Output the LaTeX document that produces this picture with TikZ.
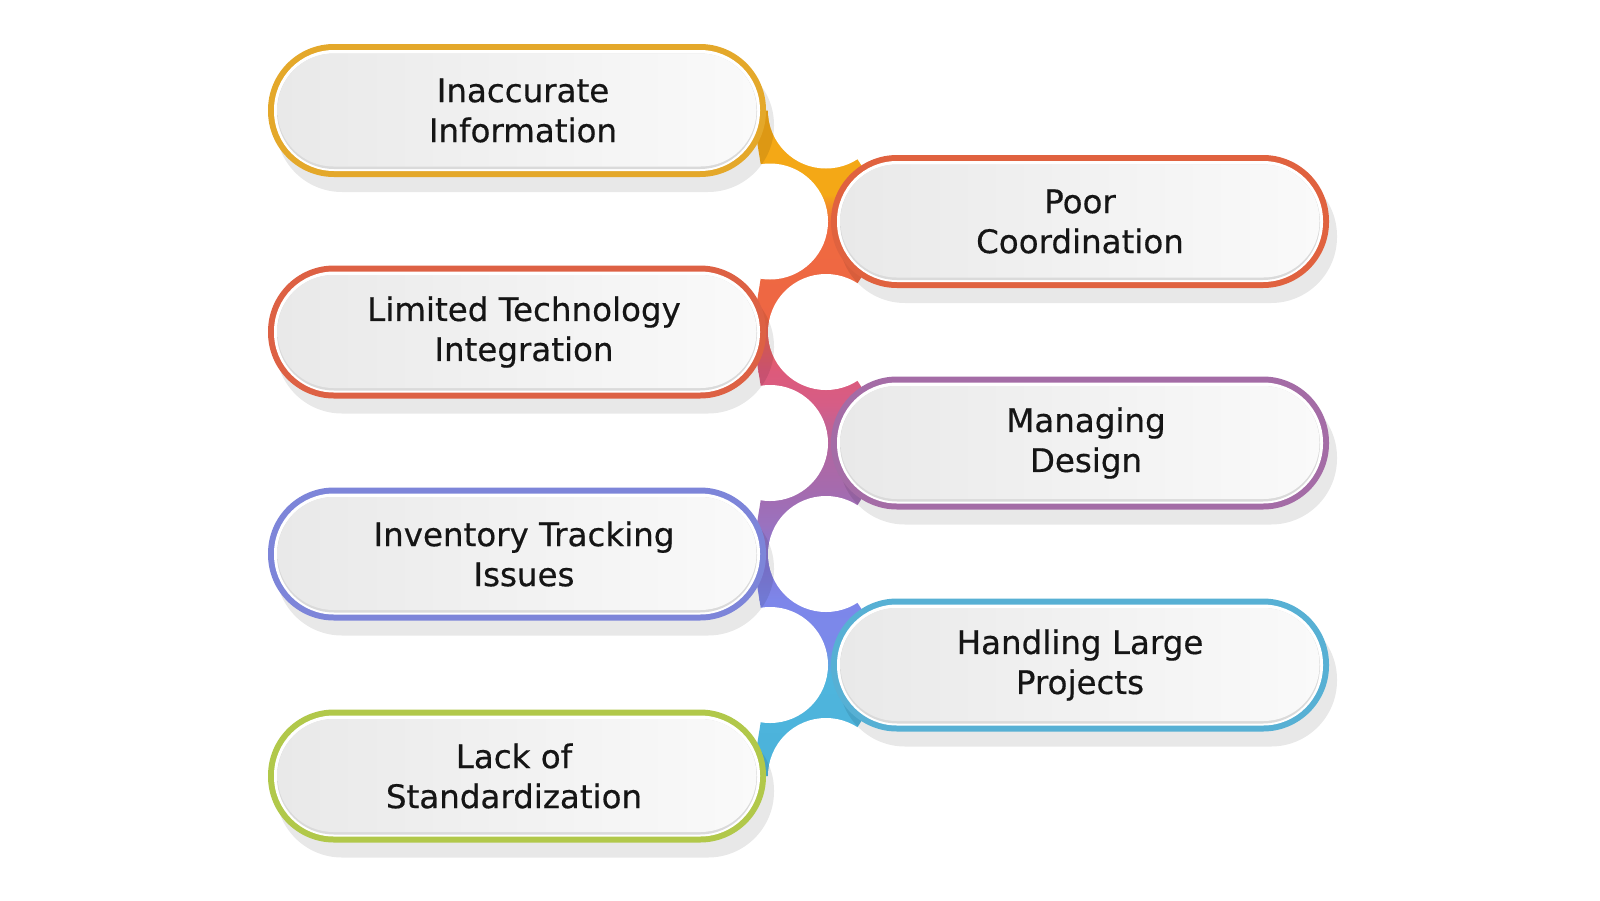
\documentclass[tikz,border=0pt]{standalone}
\usepackage{fontspec}
\setmainfont[FakeBold=0.5]{DejaVu Sans}
\definecolor{cYel}{HTML}{E4A82A}
\definecolor{cOra}{HTML}{E0623F}
\definecolor{cRed}{HTML}{DD6144}
\definecolor{cPur}{HTML}{A46CA6}
\definecolor{cBlu}{HTML}{7D85D9}
\definecolor{cCya}{HTML}{57B0D4}
\definecolor{cGrn}{HTML}{B1C84A}
\definecolor{pillL}{HTML}{E9E9E9}
\definecolor{pillM}{HTML}{F4F4F4}
\definecolor{pillR}{HTML}{FAFAFA}
\definecolor{pillEdge}{HTML}{DADADA}
\definecolor{txt}{HTML}{151515}
\definecolor{g1}{HTML}{F4A816}
\definecolor{g2}{HTML}{EF6A40}
\definecolor{g3}{HTML}{EE6644}
\definecolor{g4}{HTML}{DD5A7B}
\definecolor{g5}{HTML}{D65D86}
\definecolor{g6}{HTML}{B3669F}
\definecolor{g7}{HTML}{A46BAF}
\definecolor{g8}{HTML}{9A72BF}
\definecolor{g9}{HTML}{8279D8}
\definecolor{g10}{HTML}{7D86EA}
\definecolor{g11}{HTML}{7B8AEA}
\definecolor{g12}{HTML}{4FB5DD}
\definecolor{g13}{HTML}{4AB2DA}
\tikzset{
  ptext/.style={align=center, font=\fontsize{32.5}{40}\selectfont, text=txt, inner sep=0pt},
  pshadow/.style={fill=black, opacity=0.09, rounded corners=66pt},
  gapcircle/.style={fill=white},
}
% #1 name, #2 cx, #3 cy, #4 colour, #5 text, #6 text x-offset
\newcommand{\drawpill}[6]{%
  \fill[pshadow] ({#2-249+8},{#3-66.5+15}) rectangle ({#2+249+8},{#3+66.5+15});
  \fill[#4, rounded corners=66pt] ({#2-249},{#3-66.5}) rectangle ({#2+249},{#3+66.5});
  \fill[white, rounded corners=60pt] ({#2-243},{#3-60.5}) rectangle ({#2+243},{#3+60.5});
  \fill[pillEdge, rounded corners=57pt] ({#2-240},{#3-57}) rectangle ({#2+240},{#3+58.5});
  \shade[left color=pillL, middle color=pillM, right color=pillR, rounded corners=56pt] ({#2-239.5},{#3-57}) rectangle ({#2+239.5},{#3+56});
  \node[ptext] (#1) at ({#2+#6},{#3}) {#5};
}
\newcommand{\band}[4]{%
  \shade[top color=#3, bottom color=#4] (680,{#1-0.5}) rectangle (920,#2);
}
\begin{document}
\begin{tikzpicture}[x=1pt,y=-1pt]
\useasboundingbox (0,0) rectangle (1600,900);
\fill[white] (0,0) rectangle (1600,900);
% connector spine
\begin{scope}
\clip (752,110.5) -- (826,110.5) -- (897.5,221.5) -- (826,332) -- (897.5,443) -- (826,554) -- (897.5,665) -- (826,776) -- (752,776) -- (770,665) -- (752,554) -- (770,443) -- (752,332) -- (770,221.5) -- cycle;
\fill[g1] (680,100) rectangle (920,195);
\band{195}{222}{g1}{g2}
\band{222}{320}{g2}{g3}
\band{320}{372}{g3}{g4}
\band{372}{405}{g4}{g5}
\band{405}{445}{g5}{g6}
\band{445}{492}{g6}{g7}
\band{492}{525}{g7}{g8}
\band{525}{565}{g8}{g9}
\band{565}{600}{g9}{g10}
\band{600}{648}{g10}{g11}
\band{648}{675}{g11}{g12}
\band{675}{790}{g12}{g13}
\end{scope}
% white gaps
\fill[gapcircle] (826,110.5) circle (58pt);
\fill[gapcircle] (770,221.5) circle (58pt);
\fill[gapcircle] (826,332) circle (58pt);
\fill[gapcircle] (770,443) circle (58pt);
\fill[gapcircle] (826,554) circle (58pt);
\fill[gapcircle] (770,665) circle (58pt);
\fill[gapcircle] (826,776) circle (58pt);
% pills
\drawpill{p1}{517}{110.5}{cYel}{Inaccurate\\Information}{6}
\drawpill{p2}{1080}{221.5}{cOra}{Poor\\Coordination}{0}
\drawpill{p3}{517}{332}{cRed}{Limited Technology\\Integration}{7}
\drawpill{p4}{1080}{443}{cPur}{Managing\\Design}{6}
\drawpill{p5}{517}{554}{cBlu}{Inventory Tracking\\Issues}{7}
\drawpill{p6}{1080}{665}{cCya}{Handling Large\\Projects}{0}
\drawpill{p7}{517}{776}{cGrn}{Lack of\\Standardization}{-3}
\end{tikzpicture}
\end{document}
